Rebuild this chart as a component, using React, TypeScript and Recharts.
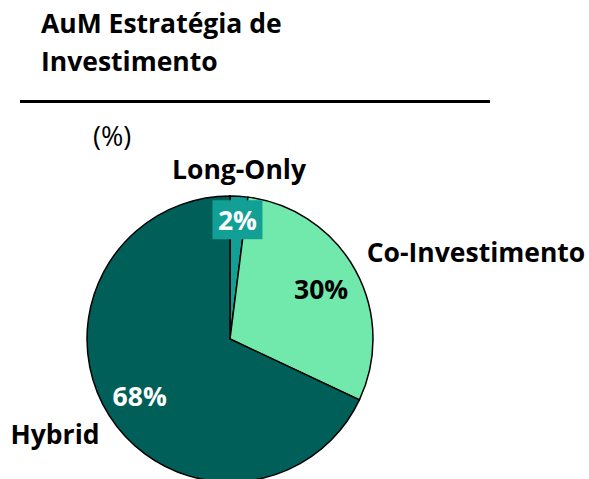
import React from 'react';
import { PieChart, Pie, Cell } from 'recharts';

const categories = ['Long-Only', 'Co-Investimento', 'Hybrid'];
const shares = [2, 30, 68];
const sliceColors = ['#12A096', '#72E9AC', '#005F58'];

const data = categories.map((name, i) => ({ name, value: shares[i] }));

const FONT = '"Open Sans", "Noto Sans", sans-serif';

// per-slice label tweaks
const pctRadius = [119, 104, 107];
const pctColor = ['#ffffff', '#000000', '#ffffff'];
const nameOffset = [
  { dx: 9, dy: -170 },
  { dx: 246, dy: -87 },
  { dx: -175, dy: 95 },
];

const RAD = Math.PI / 180;

function renderLabel(props: any) {
  const { cx, cy, midAngle, index, value } = props;
  const r = pctRadius[index];
  const x = cx + r * Math.cos(-midAngle * RAD);
  const y = cy + r * Math.sin(-midAngle * RAD);
  const off = nameOffset[index];
  return (
    <g>
      {index === 0 && (
        <rect x={x - 25} y={y - 20} width={50} height={39} fill={sliceColors[0]} />
      )}
      <text
        x={x}
        y={y}
        textAnchor="middle"
        dominantBaseline="central"
        fill={pctColor[index]}
        fontFamily={FONT}
        fontWeight={700}
        fontSize={26.5}
      >
        {value}%
      </text>
      <text
        x={cx + off.dx}
        y={cy + off.dy}
        textAnchor="middle"
        dominantBaseline="central"
        fill="#000"
        fontFamily={FONT}
        fontWeight={700}
        fontSize={26.5}
      >
        {categories[index]}
      </text>
    </g>
  );
}

export default function App() {
  return (
    <div
      style={{
        position: 'absolute',
        left: 0,
        top: 0,
        width: 589,
        height: 479,
        background: '#fff',
        overflow: 'hidden',
        fontFamily: FONT,
      }}
    >
      <div
        style={{
          position: 'absolute',
          left: 41,
          top: 4,
          fontSize: 26.5,
          fontWeight: 700,
          lineHeight: '38px',
          color: '#000',
          whiteSpace: 'nowrap',
        }}
      >
        AuM Estratégia de
        <br />
        Investimento
      </div>
      <div
        style={{
          position: 'absolute',
          left: 20,
          top: 100,
          width: 470,
          height: 2.5,
          background: '#000',
        }}
      />
      <div
        style={{
          position: 'absolute',
          left: 93,
          top: 117,
          fontSize: 27,
          color: '#000',
        }}
      >
        (%)
      </div>
      <div style={{ position: 'absolute', left: 0, top: 0 }}>
        <PieChart width={589} height={479} margin={{ top: 0, right: 0, bottom: 0, left: 0 }}>
          <Pie
            data={data}
            dataKey="value"
            nameKey="name"
            cx={230}
            cy={339}
            outerRadius={143}
            startAngle={90}
            endAngle={-270}
            stroke="#000"
            strokeWidth={1.5}
            labelLine={false}
            label={renderLabel}
            isAnimationActive={false}
          >
            {data.map((d, i) => (
              <Cell key={d.name} fill={sliceColors[i]} />
            ))}
          </Pie>
        </PieChart>
      </div>
    </div>
  );
}
